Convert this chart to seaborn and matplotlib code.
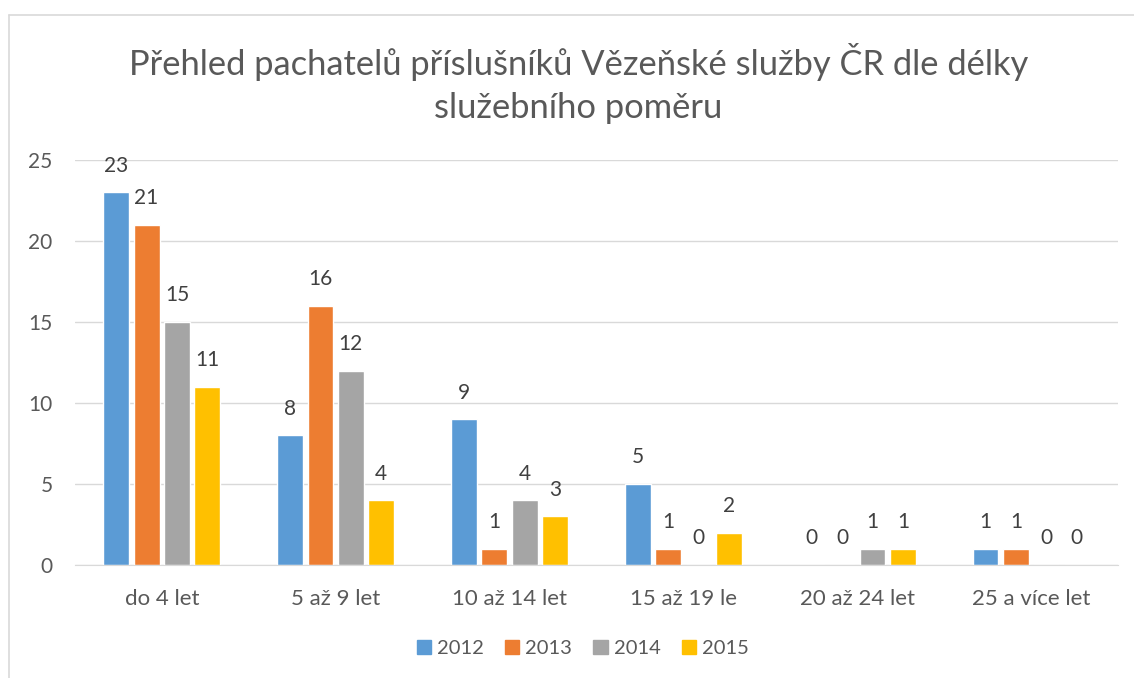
import matplotlib
matplotlib.use("Agg")
import matplotlib.pyplot as plt
import seaborn as sns
import pandas as pd
from matplotlib.lines import Line2D

# data
categories = ["do 4 let", "5 až 9 let", "10 až 14 let", "15 až 19 le", "20 až 24 let", "25 a více let"]
years = ["2012", "2013", "2014", "2015"]
v2012 = [23, 8, 9, 5, 0, 1]
v2013 = [21, 16, 1, 1, 0, 1]
v2014 = [15, 12, 4, 0, 1, 0]
v2015 = [11, 4, 3, 2, 1, 0]
colors = ["#5B9BD5", "#ED7D31", "#A5A5A5", "#FFC000"]

rows = []
for year, vals in zip(years, [v2012, v2013, v2014, v2015]):
    for cat, v in zip(categories, vals):
        rows.append({"kategorie": cat, "rok": year, "pocet": v})
df = pd.DataFrame(rows)

sns.set_style("white")
plt.rcParams["font.family"] = ["Lato", "DejaVu Sans"]
text_col = "#595959"

fig = plt.figure(figsize=(11.34, 6.78), dpi=100)
ax = fig.add_axes([0.066, 0.1667, 0.92, 0.5973])

sns.barplot(data=df, x="kategorie", y="pocet", hue="rok", palette=colors,
            width=0.7, gap=0.15, ax=ax, legend=False, saturation=1)

for cont in ax.containers:
    ax.bar_label(cont, padding=12, fontsize=15, color="#404040")

ax.set_ylim(0, 25)
ax.set_yticks([0, 5, 10, 15, 20, 25])
ax.yaxis.grid(True, color="#D9D9D9", linewidth=1)
ax.set_axisbelow(True)
for s in ["top", "right", "left"]:
    ax.spines[s].set_visible(False)
ax.spines["bottom"].set_color("#D9D9D9")
ax.tick_params(axis="both", length=0, labelcolor=text_col)
ax.tick_params(axis="y", pad=16, labelsize=15)
ax.tick_params(axis="x", pad=17, labelsize=16)
ax.set_xlabel("")
ax.set_ylabel("")

fig.text(0.51, 0.877, "Přehled pachatelů příslušníků Vězeňské služby ČR dle délky\nslužebního poměru",
         ha="center", va="center", fontsize=24.8, color=text_col, linespacing=1.42)

handles = [plt.Rectangle((0, 0), 1, 1, color=c) for c in colors]
fig.legend(handles, years, loc="center", bbox_to_anchor=(0.514, 0.044), ncol=4,
           frameon=False, fontsize=14.5, labelcolor=text_col,
           handlelength=0.7, handleheight=0.7, handletextpad=0.3, columnspacing=1.05)

# chart border (cropped)
fig.add_artist(Line2D([9 / 1134, 9 / 1134], [0, 1 - 15 / 678], color="#D9D9D9", lw=1.2))
fig.add_artist(Line2D([9 / 1134, 1], [1 - 15 / 678, 1 - 15 / 678], color="#D9D9D9", lw=1.2))

fig.savefig("out.png", dpi=100)
